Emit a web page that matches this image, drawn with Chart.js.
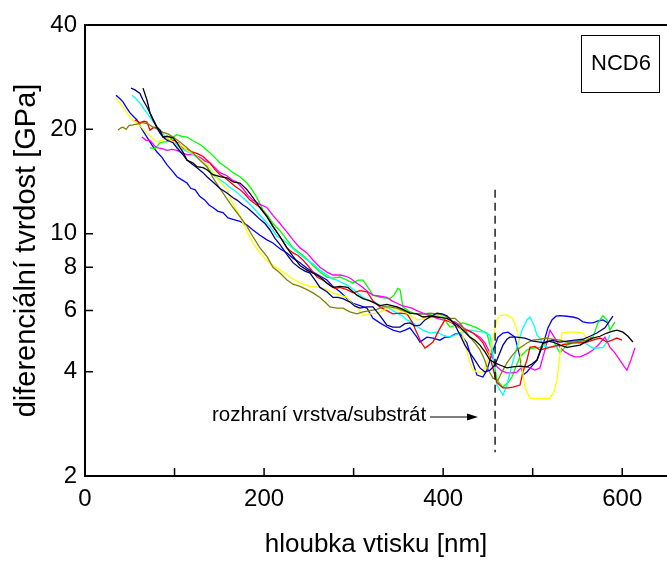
<!DOCTYPE html>
<html>
<head>
<meta charset="utf-8">
<script src="https://cdn.jsdelivr.net/npm/chart.js@4.4.1/dist/chart.umd.min.js"></script>
<style>
  html, body { margin: 0; padding: 0; background: #fff; }
  #wrap { width: 667px; height: 562px; }
</style>
</head>
<body>
<div id="wrap"><canvas id="chart"></canvas></div>
<script>
// indentation depth [nm] vs differential hardness [GPa], one array per indent
const black = [[64.8,26.3],[69.2,24.3],[72.6,22.3],[80.4,20.3],[83.8,19.9],[87.1,19.0],[91.6,19.1],[98.3,18.9],[102.7,18.3],[106.1,17.7],[109.4,17.2],[113.9,16.3],[120.6,16.0],[125.1,15.6],[131.8,15.5],[136.2,15.3],[142.9,14.8],[150.8,14.6],[158.6,14.5],[165.3,14.1],[173.1,14.0],[180.9,13.4],[187.6,12.7],[195.4,11.9],[203.2,11.2],[209.9,10.5],[217.8,9.8],[225.6,9.1],[232.3,8.6],[240.1,8.1],[247.9,7.85],[254.6,7.7],[262.4,7.5],[270.2,7.2],[276.9,7.0],[284.8,7.05],[293.7,7.0],[303.7,6.65],[310.4,6.5],[318.3,6.4],[329.4,6.2],[337.2,6.25],[348.4,6.15],[355.1,6.05],[362.9,5.9],[370.7,5.87],[377.4,5.75],[385.3,5.78],[393.1,5.75],[404.2,5.7],[410.9,5.57],[418.8,5.38],[424.3,5.2],[429.9,5.03],[435.5,4.93],[441.1,4.77],[446.7,4.56],[452.3,4.32],[457.8,4.24],[463.4,4.18],[471.2,4.1],[477.9,4.13],[485.8,4.15],[493.6,4.13],[499.1,4.21],[504.8,4.32],[511.4,4.84],[517.0,4.9],[522.6,4.87],[530.4,4.77],[538.2,4.7],[544.9,4.73],[552.8,4.77],[560.6,4.9],[567.3,5.0],[575.1,5.06],[582.9,5.17],[588.5,5.23],[594.1,5.27],[600.8,5.2],[606.4,5.06],[611.9,4.87]];

const navy = [[51.4,26.3],[55.8,26.0],[61.4,25.4],[64.8,24.3],[69.2,23.2],[72.6,22.3],[75.9,21.3],[80.4,20.2],[83.8,19.5],[87.1,19.0],[91.6,18.6],[98.3,18.3],[102.7,17.7],[109.4,16.9],[113.9,16.3],[120.6,15.8],[125.1,15.5],[131.8,15.0],[136.2,14.6],[142.9,14.1],[150.8,13.5],[158.6,13.1],[165.3,12.7],[169.7,12.5],[176.4,12.1],[180.9,11.9],[187.6,11.5],[195.4,11.0],[201.0,10.7],[206.6,10.25],[212.2,9.7],[217.8,9.3],[225.6,8.7],[232.3,8.25],[240.1,7.95],[245.7,7.8],[251.3,7.7],[256.9,7.35],[262.4,7.0],[270.2,6.8],[276.9,6.55],[282.5,6.55],[288.1,6.5],[295.9,6.35],[301.5,6.18],[307.1,6.1],[314.9,6.15],[321.6,6.15],[329.4,5.8],[337.2,5.45],[343.9,5.38],[351.8,5.38],[357.4,5.5],[362.9,5.53],[368.5,5.42],[374.1,5.45],[379.7,5.64],[385.3,5.75],[393.1,5.9],[398.7,5.87],[404.2,5.8],[408.7,5.64],[413.2,5.45],[418.8,5.1],[424.3,4.77],[429.9,4.53],[435.5,4.32],[441.1,4.1],[446.7,3.99],[452.3,4.04],[457.8,4.18],[462.3,4.47],[466.8,4.77],[471.2,4.96],[474.6,5.03],[482.4,5.03],[491.3,5.0],[500.3,4.9],[508.1,4.87],[513.7,4.84],[521.5,4.93],[530.4,4.87],[538.2,4.9],[547.1,4.93],[556.1,4.96],[563.9,5.06],[571.7,5.17],[580.7,5.35],[585.2,5.57],[589.6,5.78]];

const blue = [[34.6,25.1],[39.1,24.5],[42.4,24.0],[46.9,23.0],[50.3,22.3],[54.7,21.7],[58.1,21.3],[63.7,20.0],[69.2,19.0],[74.8,18.0],[80.4,17.2],[86.0,16.6],[91.6,15.8],[97.2,15.2],[102.7,14.6],[108.3,14.3],[113.9,14.0],[118.4,13.5],[122.8,13.4],[128.4,12.8],[134.0,12.5],[138.5,12.1],[142.9,11.9],[148.5,11.6],[154.1,11.5],[159.7,11.1],[165.3,11.0],[173.1,10.85],[180.9,10.6],[187.6,10.25],[195.4,9.9],[203.2,9.6],[209.9,9.4],[217.8,9.05],[225.6,8.8],[232.3,8.5],[240.1,8.25],[247.9,7.95],[254.6,7.75],[262.4,7.55],[270.2,7.35],[276.9,7.05],[284.8,6.8],[292.6,6.5],[299.3,6.3],[307.1,6.2],[314.9,6.1],[321.6,5.7],[329.4,5.53],[337.2,5.38],[343.9,5.27],[351.8,5.2],[357.4,5.27],[362.9,5.35],[370.7,5.03],[374.1,4.87],[381.9,5.03],[388.6,5.0],[396.4,4.93],[402.0,5.03],[407.6,5.03],[413.2,5.13],[418.8,5.17],[426.6,4.84],[432.2,4.32],[437.7,3.91],[444.4,3.86],[448.9,4.04],[452.3,4.32],[456.7,4.68],[461.2,5.03],[466.8,5.17],[472.4,5.2],[480.2,5.03],[485.8,4.41],[489.1,3.91],[493.6,3.99],[499.1,4.15],[504.8,4.32],[511.4,4.77],[517.0,5.35],[521.5,5.64],[526.0,5.78],[530.4,5.8],[538.2,5.78],[544.9,5.75],[550.5,5.7],[556.1,5.57],[561.7,5.53],[567.3,5.53],[572.9,5.6],[578.4,5.64],[584.0,5.53]];

const cyan = [[52.5,25.1],[57.0,24.5],[61.4,23.8],[67.0,22.7],[72.6,21.7],[78.2,20.7],[83.8,19.9],[89.3,19.1],[94.9,18.6],[100.5,18.3],[106.1,17.7],[111.7,17.4],[117.3,17.1],[125.1,16.6],[131.8,16.0],[137.4,15.5],[142.9,14.8],[150.8,14.3],[156.3,14.0],[161.9,13.6],[167.5,13.3],[173.1,12.9],[180.9,12.4],[187.6,11.9],[195.4,11.3],[201.0,10.9],[206.6,10.5],[214.4,9.85],[221.1,9.6],[225.6,9.4],[232.3,9.05],[240.1,8.7],[247.9,8.4],[254.6,8.2],[262.4,7.85],[270.2,7.6],[276.9,7.4],[281.4,7.35],[288.1,7.2],[293.7,7.1],[301.5,6.85],[310.4,6.55],[318.3,6.4],[323.9,6.35],[329.4,6.2],[337.2,6.15],[348.4,5.9],[355.1,5.78],[359.6,5.64],[366.3,5.53],[371.8,5.38],[377.4,5.27],[385.3,5.17],[393.1,5.2],[399.8,5.1],[407.6,5.03],[415.4,5.13],[422.1,5.2],[429.9,5.27],[437.7,5.23],[445.5,5.2],[452.3,5.1],[455.6,4.53],[457.8,3.91],[460.1,3.66],[463.4,3.54],[466.8,3.42],[471.2,3.66],[476.8,4.18],[482.4,4.7],[488.0,5.27],[493.6,5.64],[496.9,5.75],[501.4,5.45],[504.8,5.1],[508.1,5.0],[511.4,4.77],[517.0,4.7],[522.6,4.7],[530.4,4.77],[538.2,4.84],[544.9,4.9],[552.8,4.93],[560.6,4.8],[567.3,4.68],[572.9,4.68],[578.4,4.7],[582.9,4.87],[586.3,5.1]];

const magenta = [[63.7,19.0],[68.1,18.6],[72.6,18.6],[77.1,18.0],[80.4,17.7],[86.0,17.6],[91.6,17.4],[97.2,17.5],[102.7,17.4],[108.3,17.1],[113.9,16.9],[120.6,16.9],[128.4,16.6],[134.0,16.2],[139.6,16.0],[145.2,15.5],[150.8,15.0],[158.6,14.7],[164.2,14.3],[169.7,14.1],[176.4,13.5],[182.0,12.9],[187.6,12.5],[195.4,12.15],[203.2,11.9],[209.9,11.3],[217.8,10.7],[225.6,10.1],[232.3,9.6],[240.1,9.1],[247.9,8.8],[254.6,8.4],[262.4,8.0],[270.2,7.75],[276.9,7.6],[284.8,7.6],[290.4,7.55],[295.9,7.45],[303.7,7.2],[310.4,7.0],[316.0,6.8],[321.6,6.65],[329.4,6.6],[337.2,6.55],[342.8,6.4],[348.4,6.3],[354.0,6.2],[359.6,6.15],[365.2,6.1],[370.7,6.0],[377.4,5.9],[385.3,5.8],[393.1,5.7],[399.8,5.64],[407.6,5.6],[413.2,5.57],[419.9,5.42],[426.6,5.27],[433.3,5.17],[441.1,5.03],[446.7,4.84],[452.3,4.53],[456.7,4.32],[460.1,4.13],[465.6,4.02],[471.2,3.97],[476.8,3.97],[482.4,3.99],[486.9,4.1],[491.3,4.15],[496.9,4.1],[502.5,4.04],[508.1,4.1],[513.7,4.62],[519.3,5.27],[524.8,5.0],[530.4,4.7],[536.0,4.56],[541.6,4.47],[547.1,4.41],[552.8,4.41],[560.6,4.5],[567.3,4.62],[574.0,4.8],[580.7,5.03],[586.3,4.7],[591.8,4.53],[597.4,4.32],[601.9,4.15],[605.2,4.04],[609.7,4.32],[614.2,4.68]];

const red = [[55.8,21.3],[61.4,20.9],[65.9,21.1],[69.2,21.0],[72.6,19.9],[77.1,20.3],[80.4,20.2],[83.8,19.6],[87.1,19.0],[92.7,18.75],[98.3,18.6],[103.8,18.3],[109.4,17.7],[115.0,17.4],[120.6,17.2],[126.2,17.0],[131.8,16.7],[139.6,16.0],[145.2,15.3],[150.8,14.8],[156.3,14.5],[161.9,14.1],[167.5,13.7],[173.1,13.4],[178.7,13.0],[184.3,12.5],[189.9,12.2],[195.4,11.9],[203.2,11.2],[209.9,10.5],[217.8,9.8],[225.6,9.1],[232.3,8.8],[237.9,8.65],[243.4,8.4],[251.3,7.95],[259.1,7.5],[265.8,7.35],[273.6,7.1],[279.2,6.95],[284.8,7.0],[292.6,6.9],[299.3,6.75],[307.1,6.85],[314.9,6.8],[321.6,6.4],[329.4,6.15],[337.2,6.0],[343.9,5.87],[351.8,5.9],[359.6,5.87],[365.2,5.57],[370.7,5.17],[375.2,4.87],[379.7,4.68],[384.2,4.77],[388.6,4.87],[395.3,5.27],[402.0,5.64],[407.6,5.57],[413.2,5.45],[422.1,5.27],[427.7,5.27],[433.3,5.17],[438.9,5.03],[444.4,4.84],[452.3,4.41],[456.7,3.99],[460.1,3.72],[466.8,3.59],[472.4,3.59],[477.9,3.61],[485.8,3.66],[489.1,3.99],[493.6,4.32],[496.9,4.7],[502.5,4.73],[508.1,4.62],[515.9,4.68],[522.6,4.73],[530.4,4.77],[538.2,4.8],[544.9,4.84],[552.8,4.84],[560.6,4.87],[567.3,4.93],[575.1,5.0],[582.9,4.87],[588.5,4.93],[594.1,5.0],[599.7,4.93]];

const green = [[72.6,17.7],[78.2,17.6],[83.8,18.3],[88.2,18.4],[91.6,18.4],[97.2,18.9],[102.7,19.3],[108.3,19.1],[113.9,19.0],[119.5,18.6],[125.1,18.3],[130.7,17.9],[136.2,17.4],[142.9,16.8],[150.8,16.0],[158.6,15.5],[165.3,15.0],[173.1,14.6],[180.9,14.0],[186.5,13.4],[192.1,12.7],[198.8,11.7],[204.4,11.25],[209.9,10.7],[217.8,10.2],[225.6,9.6],[232.3,9.1],[240.1,8.8],[247.9,8.45],[254.6,8.1],[262.4,7.75],[270.2,7.5],[276.9,7.45],[284.8,7.5],[292.6,7.35],[299.3,7.2],[304.8,7.35],[310.4,7.35],[316.0,7.0],[321.6,6.65],[329.4,6.55],[340.6,6.5],[345.1,6.65],[349.5,6.95],[351.8,6.9],[355.1,6.15],[360.7,6.0],[366.3,5.9],[374.1,5.87],[381.9,5.87],[390.8,5.8],[399.8,5.75],[407.6,5.38],[414.3,5.45],[422.1,5.53],[429.9,5.45],[437.7,5.35],[444.4,5.23],[448.9,5.17],[455.6,4.41],[460.1,3.78],[466.8,3.61],[472.4,3.72],[476.8,3.86],[481.3,4.13],[485.8,4.41],[493.6,4.62],[500.3,4.68],[508.1,4.7],[515.9,4.87],[522.6,4.93],[530.4,4.53],[538.2,4.77],[544.9,4.84],[552.8,4.87],[560.6,4.93],[567.3,5.03],[572.9,5.53],[578.4,5.8],[582.9,5.64],[586.3,5.27],[591.8,5.57]];

const yellow = [[34.6,24.6],[39.1,23.8],[42.4,23.2],[46.9,22.3],[50.3,21.7],[54.7,21.1],[58.1,20.9],[63.7,20.2],[69.2,19.5],[74.8,18.9],[80.4,18.4],[86.0,18.6],[91.6,18.9],[97.2,18.5],[102.7,18.3],[108.3,17.9],[113.9,17.4],[119.5,17.1],[125.1,16.7],[130.7,16.2],[136.2,15.8],[141.8,15.2],[147.4,14.5],[153.0,13.9],[158.6,13.4],[165.3,12.2],[173.1,11.2],[180.9,10.15],[187.6,9.4],[193.2,8.95],[198.8,8.6],[206.6,8.2],[217.8,7.85],[229.0,7.5],[240.1,7.2],[251.3,7.05],[262.4,7.0],[270.2,6.9],[276.9,6.75],[284.8,6.65],[292.6,6.55],[298.2,6.3],[303.7,6.15],[310.4,5.8],[318.3,5.87],[326.1,5.9],[332.8,6.0],[340.6,6.15],[348.4,6.05],[359.6,5.9],[365.2,5.78],[370.7,5.64],[377.4,5.67],[385.3,5.7],[393.1,5.78],[402.0,5.7],[409.8,5.57],[418.8,5.38],[424.3,4.84],[429.9,4.24],[433.3,4.04],[438.9,3.99],[444.4,3.99],[450.1,4.32],[454.5,4.84],[460.1,5.64],[463.4,5.8],[471.2,5.83],[477.9,5.7],[483.5,5.17],[488.0,4.13],[491.3,3.61],[496.9,3.35],[508.1,3.35],[519.3,3.35],[523.7,3.5],[527.1,3.78],[530.4,4.47],[532.7,5.17],[539.3,5.2],[549.4,5.2],[556.1,5.17],[560.6,5.0],[563.9,4.9]];

const olive = [[36.9,19.9],[40.2,20.2],[42.4,20.3],[45.8,20.0],[49.1,20.5],[53.6,20.6],[59.2,20.75],[64.8,20.9],[70.4,20.75],[75.9,20.3],[81.5,20.0],[87.1,19.6],[92.7,19.4],[98.3,19.0],[106.1,18.4],[113.9,17.7],[120.6,17.1],[128.4,16.3],[136.2,15.6],[142.9,14.5],[150.8,13.5],[158.6,12.6],[165.3,11.9],[173.1,11.2],[180.9,10.5],[187.6,9.8],[195.4,9.1],[203.2,8.6],[209.9,8.0],[217.8,7.7],[225.6,7.35],[232.3,7.15],[240.1,7.05],[247.9,6.9],[254.6,6.75],[262.4,6.55],[268.0,6.35],[273.6,6.15],[281.4,6.1],[288.1,6.1],[295.9,5.95],[303.7,5.87],[310.4,5.95],[318.3,6.0],[326.1,6.05],[332.8,6.15],[340.6,6.15],[348.4,6.1],[355.1,6.0],[362.9,5.9],[370.7,5.87],[377.4,5.87],[385.3,5.9],[393.1,5.87],[399.8,5.83],[407.6,5.7],[413.2,5.7],[418.8,5.53],[424.3,5.27],[429.9,5.03],[435.5,4.84],[441.1,4.62],[445.5,4.38],[448.9,4.13],[452.3,3.97],[455.6,3.83],[461.2,3.78],[465.6,3.99],[471.2,4.24],[476.8,4.44],[482.4,4.62],[488.0,4.73],[493.6,4.84],[500.3,4.93],[508.1,4.96],[515.9,5.0],[522.6,4.96],[530.4,4.93],[538.2,4.87],[544.9,4.87],[552.8,4.9],[560.6,4.93],[566.2,5.03]];

const yTicks = [2, 4, 6, 8, 10, 20, 40];
const xTicks = [0, 100, 200, 300, 400, 500, 600];
const xLabelled = [0, 200, 400, 600];

// film / substrate interface marker
const interfaceDepth = 458;
const interfaceSpan = [2.34, 13.4];
const noteText = 'rozhraní vrstva/substrát';
const noteStart = [141.8, 2.96];
const arrowSpan = [385.3, 438.9];
const sampleName = 'NCD6';

const series = [
  { data: black, color: '#000000' },
  { data: navy, color: '#000080' },
  { data: olive, color: '#808000' },
  { data: yellow, color: '#ffff00' },
  { data: red, color: '#ff0000' },
  { data: cyan, color: '#00ffff' },
  { data: magenta, color: '#ff00ff' },
  { data: green, color: '#00ff00' },
  { data: blue, color: '#0000ff' }
];

const font = 'Arial, "Liberation Sans", sans-serif';

const extras = {
  id: 'extras',
  afterDraw(chart) {
    const { ctx, chartArea: a, scales: { x, y } } = chart;
    ctx.save();
    ctx.strokeStyle = '#000';
    ctx.fillStyle = '#000';

    // frame: left, bottom, top (right edge is cut off in the original)
    ctx.lineWidth = 2;
    ctx.beginPath();
    ctx.moveTo(a.right, a.top); ctx.lineTo(a.left, a.top);
    ctx.lineTo(a.left, a.bottom); ctx.lineTo(a.right, a.bottom);
    ctx.stroke();

    // inward ticks
    ctx.lineWidth = 1.5;
    ctx.beginPath();
    yTicks.forEach(v => {
      const py = y.getPixelForValue(v);
      ctx.moveTo(a.left, py); ctx.lineTo(a.left + 8, py);
    });
    xTicks.forEach(v => {
      const px = x.getPixelForValue(v);
      ctx.moveTo(px, a.bottom); ctx.lineTo(px, a.bottom - 8);
    });
    ctx.stroke();

    // dashed interface line
    const ix = x.getPixelForValue(interfaceDepth);
    ctx.lineWidth = 1.3;
    ctx.setLineDash([8, 5]);
    ctx.beginPath();
    ctx.moveTo(ix, y.getPixelForValue(interfaceSpan[1]));
    ctx.lineTo(ix, y.getPixelForValue(interfaceSpan[0]));
    ctx.stroke();
    ctx.setLineDash([]);

    // note + arrow
    const ny = y.getPixelForValue(noteStart[1]);
    ctx.font = '20.5px ' + font;
    ctx.textBaseline = 'middle';
    ctx.textAlign = 'left';
    ctx.fillText(noteText, x.getPixelForValue(noteStart[0]), ny - 2);
    const ax0 = x.getPixelForValue(arrowSpan[0]);
    const ax1 = x.getPixelForValue(arrowSpan[1]);
    ctx.lineWidth = 1.2;
    ctx.beginPath();
    ctx.moveTo(ax0, ny); ctx.lineTo(ax1 - 8, ny);
    ctx.stroke();
    ctx.beginPath();
    ctx.moveTo(ax1, ny); ctx.lineTo(ax1 - 11, ny - 3.5); ctx.lineTo(ax1 - 11, ny + 3.5);
    ctx.closePath();
    ctx.fill();

    // sample label box
    ctx.lineWidth = 1;
    ctx.strokeRect(a.right - 85.5, a.top + 10.5, 78, 57);
    ctx.font = '22px ' + font;
    ctx.textAlign = 'center';
    ctx.fillText(sampleName, a.right - 46, a.top + 39);
    ctx.restore();
  }
};

new Chart(document.getElementById('chart'), {
  type: 'line',
  data: {
    datasets: series.map(s => ({
      data: s.data.map(p => ({ x: p[0], y: p[1] })),
      borderColor: s.color,
      borderWidth: 1.3,
      pointRadius: 0,
      fill: false,
      tension: 0
    }))
  },
  options: {
    responsive: true,
    maintainAspectRatio: false,
    animation: false,
    layout: { padding: { top: 25, right: 0, bottom: 0, left: 0 } },
    plugins: { legend: { display: false }, tooltip: { enabled: false } },
    scales: {
      x: {
        type: 'linear',
        min: 0,
        max: 650,
        afterFit: s => { s.height = 86; },
        afterBuildTicks: s => { s.ticks = xTicks.map(v => ({ value: v })); },
        grid: { display: false, drawTicks: false },
        border: { display: false },
        ticks: {
          autoSkip: false,
          maxRotation: 0,
          padding: 9,
          color: '#000',
          font: { family: font, size: 24 },
          callback: v => xLabelled.includes(v) ? String(v) : ''
        },
        title: {
          display: true,
          text: 'hloubka vtisku [nm]',
          color: '#000',
          font: { family: font, size: 26 },
          padding: { top: 0, bottom: 2 }
        }
      },
      y: {
        type: 'logarithmic',
        min: 2,
        max: 40,
        afterFit: s => { s.width = 85; },
        afterBuildTicks: s => { s.ticks = yTicks.map(v => ({ value: v })); },
        grid: { display: false, drawTicks: false },
        border: { display: false },
        ticks: {
          autoSkip: false,
          padding: 8,
          color: '#000',
          font: { family: font, size: 24 },
          callback: v => String(v)
        },
        title: {
          display: true,
          text: 'diferenciální tvrdost [GPa]',
          color: '#000',
          font: { family: font, size: 29 },
          padding: { top: 10, bottom: 0 }
        }
      }
    }
  },
  plugins: [extras]
});
</script>
</body>
</html>
